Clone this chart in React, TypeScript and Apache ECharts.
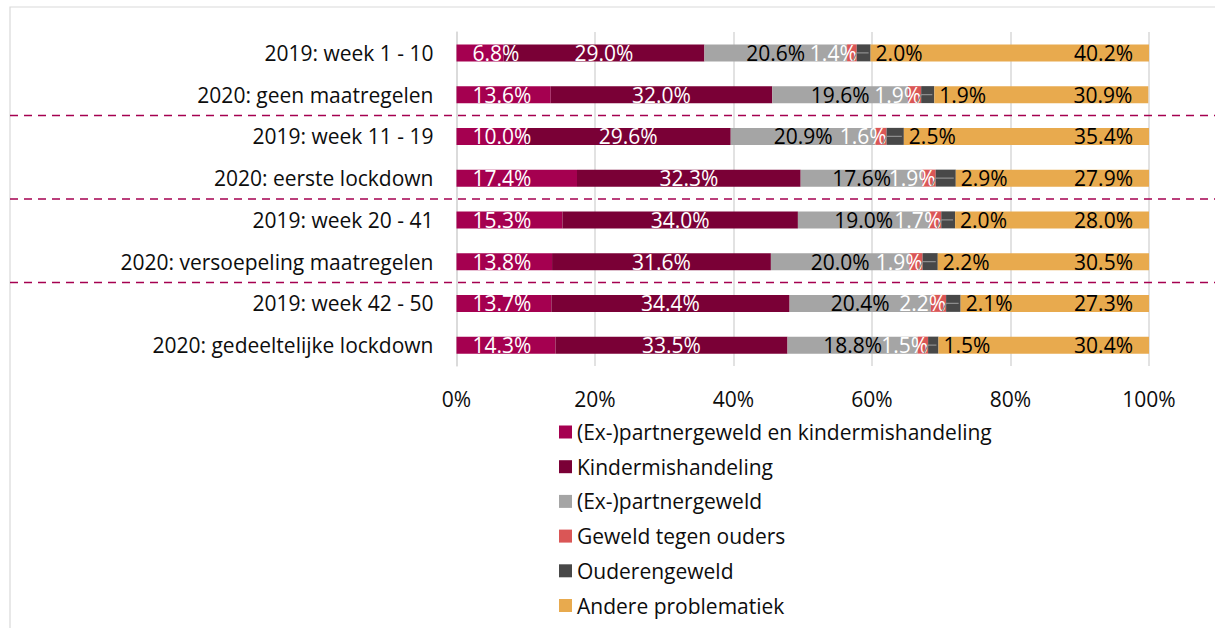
import React, { useEffect, useRef } from "react";
import * as echarts from "echarts";

const categories = [
  "2019: week 1 - 10",
  "2020: geen maatregelen",
  "2019: week 11 - 19",
  "2020: eerste lockdown",
  "2019: week 20 - 41",
  "2020: versoepeling maatregelen",
  "2019: week 42 - 50",
  "2020: gedeeltelijke lockdown",
];

const seriesNames = [
  "(Ex-)partnergeweld en kindermishandeling",
  "Kindermishandeling",
  "(Ex-)partnergeweld",
  "Geweld tegen ouders",
  "Ouderengeweld",
  "Andere problematiek",
];

const partnerEnKind = [6.8, 13.6, 10.0, 17.4, 15.3, 13.8, 13.7, 14.3];
const kindermishandeling = [29.0, 32.0, 29.6, 32.3, 34.0, 31.6, 34.4, 33.5];
const partnergeweld = [20.6, 19.6, 20.9, 17.6, 19.0, 20.0, 20.4, 18.8];
const geweldOuders = [1.4, 1.9, 1.6, 1.9, 1.7, 1.9, 2.2, 1.5];
const ouderengeweld = [2.0, 1.9, 2.5, 2.9, 2.0, 2.2, 2.1, 1.5];
const andere = [40.2, 30.9, 35.4, 27.9, 28.0, 30.5, 27.3, 30.4];

const xTicks = [0, 20, 40, 60, 80, 100];

const colors = ["#A50050", "#7A0036", "#A5A5A5", "#DA5656", "#484848", "#E8AA4E"];
const FONT = "Open Sans";
const FS = 21;

export default function App() {
  const ref = useRef<HTMLDivElement>(null);

  useEffect(() => {
    if (!ref.current) return;
    const chart = echarts.init(ref.current, null, { renderer: "svg" });
    const values = [partnerEnKind, kindermishandeling, partnergeweld, geweldOuders, ouderengeweld, andere];
    const labelCfg = [
      { position: "insideLeft", distance: 16, color: "#fff" },
      { position: "inside", color: "#fff" },
      { position: "inside", color: "#000" },
      { position: "insideRight", distance: 0, color: "#fff" },
      { position: "right", distance: 5, color: "#000" },
      { position: "insideRight", distance: 16, color: "#000" },
    ];
    const barSeries = values.map((arr, i) => ({
      type: "bar",
      name: seriesNames[i],
      stack: "total",
      barWidth: 17,
      itemStyle: { color: colors[i] },
      label: {
        show: true,
        fontFamily: FONT,
        fontSize: FS,
        ...labelCfg[i],
        formatter: (p: any) => Number(p.value).toFixed(1) + "%",
      },
      data: arr,
    }));

    const leaderData = categories.map((_, i) => [
      partnerEnKind[i] + kindermishandeling[i] + partnergeweld[i] + geweldOuders[i],
      i,
      ouderengeweld[i],
    ]);

    const option: any = {
      animation: false,
      textStyle: { fontFamily: FONT },
      grid: { left: 456.5, right: 66, top: 32, bottom: 262 },
      xAxis: {
        type: "value",
        min: xTicks[0],
        max: xTicks[xTicks.length - 1],
        interval: 20,
        axisLine: { show: false },
        axisTick: { show: false },
        splitLine: { show: true, lineStyle: { color: "#D9D9D9", width: 1.5 } },
        axisLabel: { formatter: "{value}%", fontSize: FS, color: "#0d0d0d", margin: 22, fontFamily: FONT },
      },
      yAxis: {
        type: "category",
        inverse: true,
        data: categories,
        axisLine: { show: true, lineStyle: { color: "#D9D9D9", width: 1.5 } },
        axisTick: { show: false },
        axisLabel: { fontSize: FS, color: "#0d0d0d", margin: 23, fontFamily: FONT },
      },
      legend: {
        orient: "vertical",
        left: 554,
        top: 416,
        itemWidth: 13,
        itemHeight: 13,
        itemGap: 12.7,
        icon: "rect",
        data: seriesNames,
        textStyle: { fontSize: FS, color: "#0d0d0d", lineHeight: 22, fontFamily: FONT },
      },
      series: [
        ...barSeries,
        {
          type: "custom",
          name: "leader",
          silent: true,
          encode: { x: 0, y: 1 },
          renderItem: (params: any, api: any) => {
            const p = api.coord([api.value(0), api.value(1)]);
            const w = api.size([api.value(2), 0])[0];
            return {
              type: "polyline",
              shape: { points: [[p[0] - 4, p[1] + 8], [p[0], p[1]], [p[0] + w - 2, p[1]]] },
              style: { stroke: "#8C8C8C", lineWidth: 1.2, fill: null },
            };
          },
          data: leaderData,
          z: 5,
        },
      ],
    };
    chart.setOption(option);

    const ys = categories.map((c) => chart.convertToPixel({ yAxisIndex: 0 }, c) as number);
    const boundaries = [1, 3, 5].map((i) => (ys[i] + ys[i + 1]) / 2);
    chart.setOption({
      graphic: [
        {
          type: "rect",
          shape: { x: 10, y: 7, width: 1400, height: 800 },
          style: { fill: null, stroke: "#D9D9D9", lineWidth: 1.2 },
          silent: true,
          z: -10,
        },
        ...boundaries.map((y) => ({
          type: "line",
          shape: { x1: 10, y1: y, x2: 1215, y2: y },
          style: { stroke: "#A50050", lineWidth: 1.5, lineDash: [8, 6] },
          silent: true,
          z: 10,
        })),
      ],
    });

    return () => chart.dispose();
  }, []);

  return (
    <div
      ref={ref}
      style={{ position: "absolute", left: 0, top: 0, width: 1215, height: 628, background: "#fff" }}
    />
  );
}
